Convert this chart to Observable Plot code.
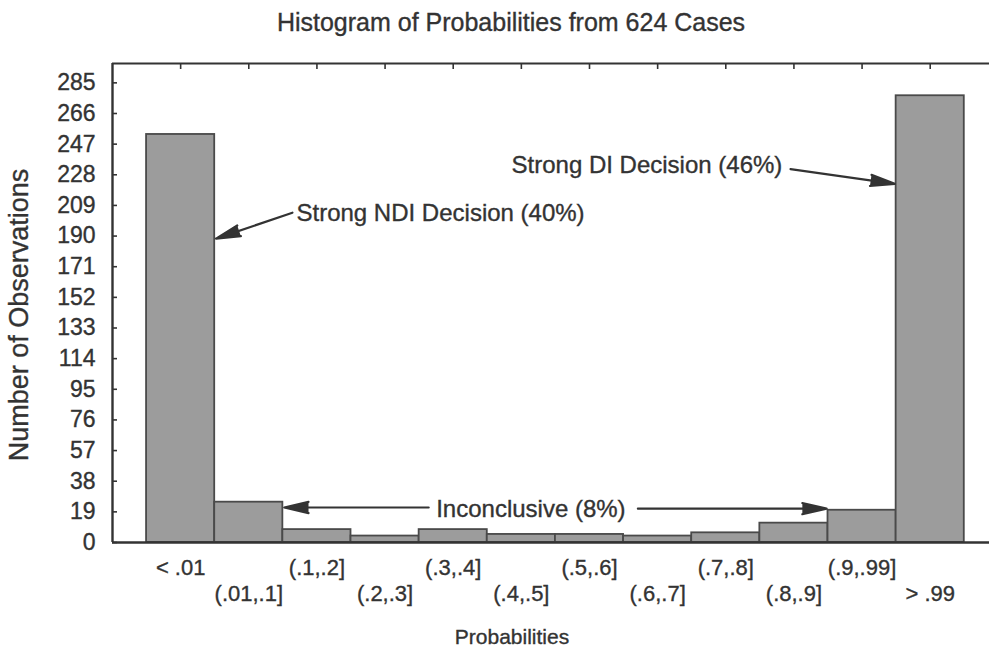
<!DOCTYPE html>
<html>
<head>
<meta charset="utf-8">
<script src="https://cdn.jsdelivr.net/npm/d3@7"></script>
<script src="https://cdn.jsdelivr.net/npm/@observablehq/plot@0.6"></script>
<style>
  html, body { margin: 0; padding: 0; background: #fff; overflow: hidden; }
  #chart svg { display: block; }
  #chart svg text { stroke: #333; stroke-width: 0.35px; paint-order: normal; }
</style>
</head>
<body>
<div id="chart"></div>
<script>
// ---- data ----
const categories = ["< .01", "(.01,.1]", "(.1,.2]", "(.2,.3]", "(.3,.4]", "(.4,.5]",
                    "(.5,.6]", "(.6,.7]", "(.7,.8]", "(.8,.9]", "(.9,.99]", "> .99"];
const counts = [253, 25, 8, 4, 8, 5, 5, 4, 6, 12, 20, 277];
const yTicks = [0, 19, 38, 57, 76, 95, 114, 133, 152, 171, 190, 209, 228, 247, 266, 285];
const titleText = "Histogram of Probabilities from 624 Cases";
const xLabel = "Probabilities";
const yLabel = "Number of Observations";
// annotations (in data units: category position, count)
const notes = [
  {text: "Strong NDI Decision (40%)", x: 2.70, y: 204, anchor: "start"},
  {text: "Strong DI Decision (46%)", x: 9.83, y: 234, anchor: "end"},
  {text: "Inconclusive (8%)", x: 6.14, y: 20.5, anchor: "middle"}
];
const arrows = [
  {x1: 2.64, y1: 204.5, x2: 1.52, y2: 188.4},
  {x1: 9.95, y1: 231.5, x2: 11.48, y2: 222.4},
  {x1: 4.64, y1: 21.7, x2: 2.52, y2: 21.7},
  {x1: 7.71, y1: 21.0, x2: 10.48, y2: 21.0}
];

const data = categories.map((c, i) => ({cat: c, i, count: counts[i]}));
const yMax = 297;
const ink = "#333333";

const noteMark = (anchor) => Plot.text(notes.filter(d => d.anchor === anchor),
  {x: "x", y: "y", text: "text", textAnchor: anchor, lineAnchor: "middle", fontSize: 24, fill: ink});

const plot = Plot.plot({
  width: 989,
  height: 651,
  marginTop: 63,
  marginBottom: 109,
  marginLeft: 112,
  marginRight: 0,
  style: {fontFamily: "'Liberation Sans', Arial, sans-serif", fontSize: "22px", color: ink, background: "#fff"},
  x: {type: "linear", domain: [0, 12.87], axis: null},
  y: {domain: [0, yMax], axis: null},
  marks: [
    Plot.rect(data, {x1: d => d.i + 0.5, x2: d => d.i + 1.5, y1: 0, y2: "count",
                     fill: "#9c9c9c", stroke: "#4a4a4a", strokeWidth: 1.8}),
    // frame lines
    Plot.ruleY([0], {stroke: ink, strokeWidth: 2.4}),
    Plot.ruleY([yMax], {stroke: ink, strokeWidth: 2.2}),
    Plot.ruleX([0], {stroke: ink, strokeWidth: 2.4}),
    // axes
    Plot.axisY(yTicks, {anchor: "left", tickSize: -5, tickPadding: 22, label: null,
                        fontSize: 23, stroke: ink, strokeWidth: 1.6}),
    Plot.axisX(data.map(d => d.i + 1), {anchor: "top", tickSize: -5, tickFormat: () => "",
                        label: null, stroke: ink, strokeWidth: 1.6}),
    // category labels in two rows
    Plot.text(data.filter(d => d.i % 2 === 0), {x: d => d.i + 1, text: "cat", frameAnchor: "bottom",
                        lineAnchor: "middle", dy: 25, fontSize: 22, fill: ink}),
    Plot.text(data.filter(d => d.i % 2 === 1), {x: d => d.i + 1, text: "cat", frameAnchor: "bottom",
                        lineAnchor: "middle", dy: 51, fontSize: 22, fill: ink}),
    // titles
    Plot.text([titleText], {frameAnchor: "top", lineAnchor: "middle", dy: -41, dx: -40, fontSize: 25, fill: ink}),
    Plot.text([xLabel], {frameAnchor: "bottom", lineAnchor: "middle", dy: 95, dx: -39, fontSize: 21, fill: ink}),
    Plot.text([yLabel], {frameAnchor: "left", textAnchor: "middle", lineAnchor: "middle",
                         dx: -93, dy: 12, rotate: -90, fontSize: 27, fill: ink}),
    // annotations
    Plot.arrow(arrows, {x1: "x1", y1: "y1", x2: "x2", y2: "y2", stroke: ink, fill: ink, strokeWidth: 2.2,
                        headLength: 17, headAngle: 26}),
    noteMark("start"),
    noteMark("end"),
    noteMark("middle")
  ]
});
document.getElementById("chart").append(plot);
</script>
</body>
</html>
